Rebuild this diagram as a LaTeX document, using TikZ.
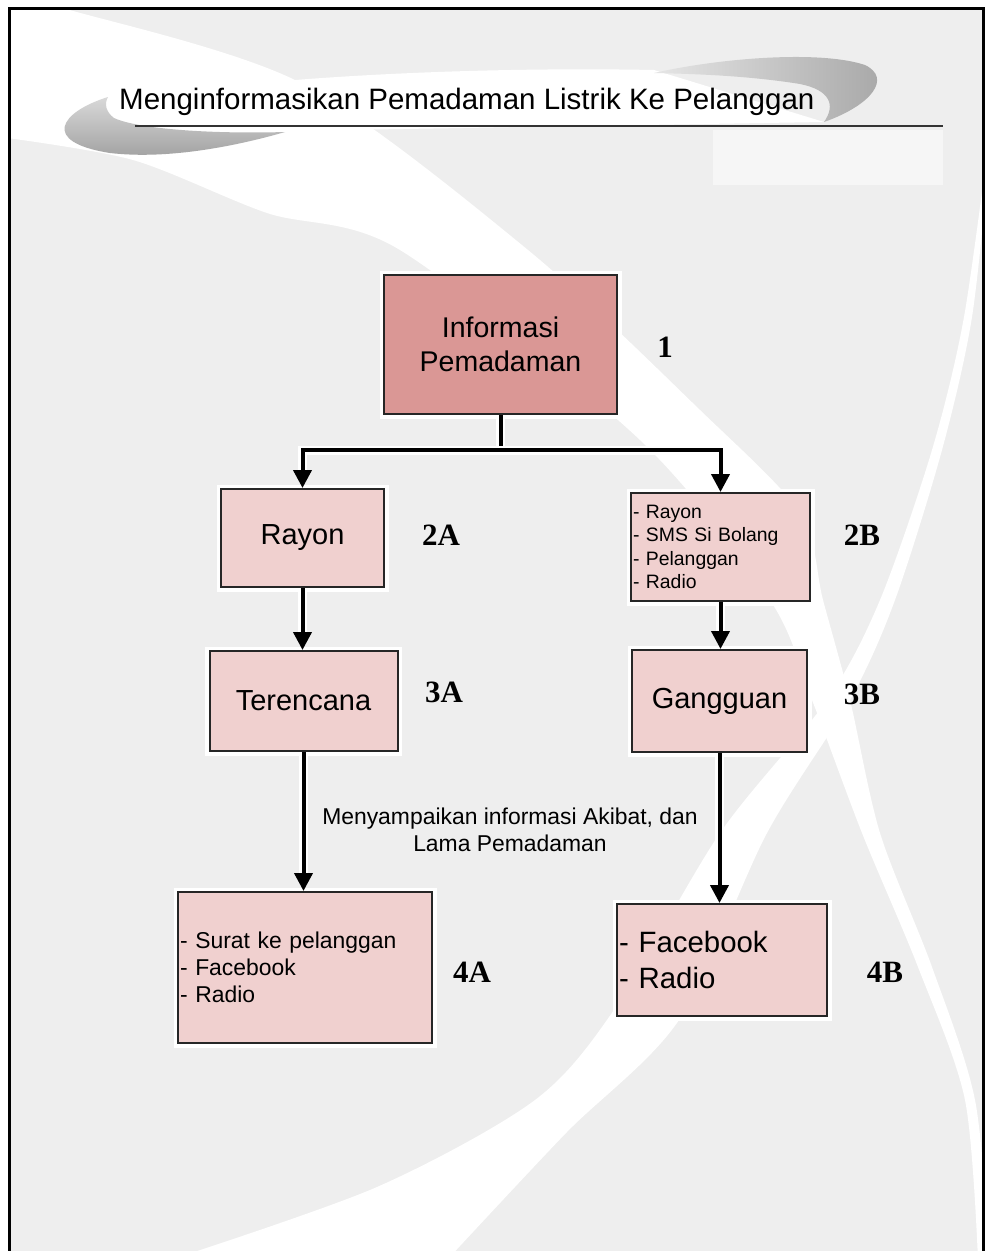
\documentclass[tikz,border=0pt]{standalone}
\usepackage{fontspec}
\setmainfont{Liberation Sans}
\newfontfamily\numfont{Liberation Serif}
\usetikzlibrary{arrows.meta}
\definecolor{bggray}{HTML}{EEEEEE}
\definecolor{boxdark}{HTML}{DA9795}
\definecolor{boxlight}{HTML}{F0D0CF}
\tikzset{
  flowbox/.style={draw=black!85,line width=2pt,fill=boxlight,inner sep=2pt,
    preaction={draw=white,line width=9pt}},
  flowline/.style={line width=4pt,preaction={draw=white,line width=9pt}},
  flowarrow/.style={flowline,-{Triangle[length=18pt,width=18pt]}},
  stepnum/.style={font=\numfont\bfseries\fontsize{31}{31}\selectfont},
  bigtext/.style={font=\fontsize{29}{34}\selectfont},
}
\begin{document}
\begin{tikzpicture}[x=1pt,y=-1pt]
\useasboundingbox (0,0) rectangle (985,1251);
\clip (0,0) rectangle (985,1251);
\fill[white] (0,0) rectangle (985,1251);
\fill[bggray] (9.5,8.5) rectangle (983,1262);
\fill[white] plot[smooth,tension=0.5] coordinates {(40,0) (63,8) (301,83) (528,250) (700,410) (800,513) (823,600) (850,700) (880,833) (932,967) (975,1100) (990,1260)}
  -- plot[smooth,tension=0.5] coordinates {(978,1260) (965,1100) (918,967) (862,833) (812,700) (770,600) (640,440) (400,250) (267,213) (133,160) (0,137)}
  -- (0,0) -- cycle;
\fill[white] plot[smooth,tension=0.5] coordinates {(990,150) (972,317) (942,450) (895,600) (850,700) (767,833) (679,1020) (566,1133) (447,1260)}
  -- plot[smooth,tension=0.5] coordinates {(170,1260) (377,1187) (535,1100) (616,1007) (720,833) (827,700) (880,600) (932,450) (964,317) (990,130)}
  -- cycle;
\fill[white,opacity=0.5] (713,130) rectangle (943,185);
\fill[white] (95,108) .. controls (200,80) and (450,66) .. (654,70) -- (824,122) -- (283,131) .. controls (200,128) and (130,122) .. (95,108) -- cycle;
\shade[top color=gray!30,bottom color=gray!75] (108,97) .. controls (60,112) and (40,142) .. (110,153) .. controls (170,160) and (240,145) .. (285,132) .. controls (220,134) and (140,130) .. (114,118) .. controls (106,112) and (104,104) .. (108,97) -- cycle;
\shade[left color=gray!20,right color=gray!70] (654,73) .. controls (720,58) and (820,50) .. (865,65) .. controls (892,78) and (872,105) .. (824,122) .. controls (836,105) and (830,90) .. (800,84) .. controls (750,76) and (700,74) .. (654,73) -- cycle;
\draw[line width=2pt,black!80] (135,126) -- (943,126);
\draw[line width=3pt] (9.5,1262) -- (9.5,8.5) -- (983,8.5) -- (983,1262);
\node[font=\fontsize{29.5}{30}\selectfont,anchor=base west,inner sep=0pt] (title) at (119,109) {Menginformasikan Pemadaman Listrik Ke Pelanggan};

\node[flowbox,fill=boxdark,minimum width=233pt,minimum height=139pt,align=center,font=\fontsize{28.5}{34}\selectfont] (info) at (500.5,344.5) {Informasi\\Pemadaman};
\node[flowbox,bigtext,minimum width=163pt,minimum height=98pt] (rayon) at (302.5,538) {Rayon};
\node[flowbox,minimum width=179pt,minimum height=108pt,text width=175pt,align=left,font=\fontsize{19.4}{23.3}\selectfont] (media) at (720.5,547) {- Rayon\\- SMS Si Bolang\\- Pelanggan\\- Radio};
\node[flowbox,bigtext,minimum width=188pt,minimum height=100pt] (terencana) at (303.5,701) {Terencana};
\node[flowbox,bigtext,minimum width=175pt,minimum height=102pt] (gangguan) at (719.5,701) {Gangguan};
\node[flowbox,minimum width=254pt,minimum height=151pt,text width=250pt,align=left,font=\fontsize{22.9}{27}\selectfont] (surat) at (305,967.5) {- Surat ke pelanggan\\- Facebook\\- Radio};
\node[flowbox,minimum width=210pt,minimum height=112pt,text width=206pt,align=left,font=\fontsize{29.4}{36}\selectfont] (sosmed) at (722,960) {- Facebook\\- Radio};

\node[stepnum] (n1) at (665,347) {1};
\node[stepnum] (n2a) at (441,535) {2A};
\node[stepnum] (n2b) at (862,535) {2B};
\node[stepnum] (n3a) at (444,692) {3A};
\node[stepnum] (n3b) at (862,694) {3B};
\node[stepnum] (n4a) at (472,972) {4A};
\node[stepnum] (n4b) at (885,972) {4B};

\coordinate (split) at (500.5,450);
\draw[flowline] (info.south) -- (split);
\draw[flowarrow] (split) -| (rayon.north);
\draw[flowarrow] (split) -| (media.north);
\draw[flowarrow] (rayon.south) -- (rayon.south |- terencana.north);
\draw[flowarrow] (media.south) -- (media.south |- gangguan.north);
\draw[flowarrow] (terencana.south) -- (terencana.south |- surat.north);
\draw[flowarrow] (gangguan.south) -- (gangguan.south |- sosmed.north);
\node[font=\fontsize{22.9}{27}\selectfont,align=center] (akibat) at (510,830) {Menyampaikan informasi Akibat, dan\\Lama Pemadaman};
\end{tikzpicture}
\end{document}
